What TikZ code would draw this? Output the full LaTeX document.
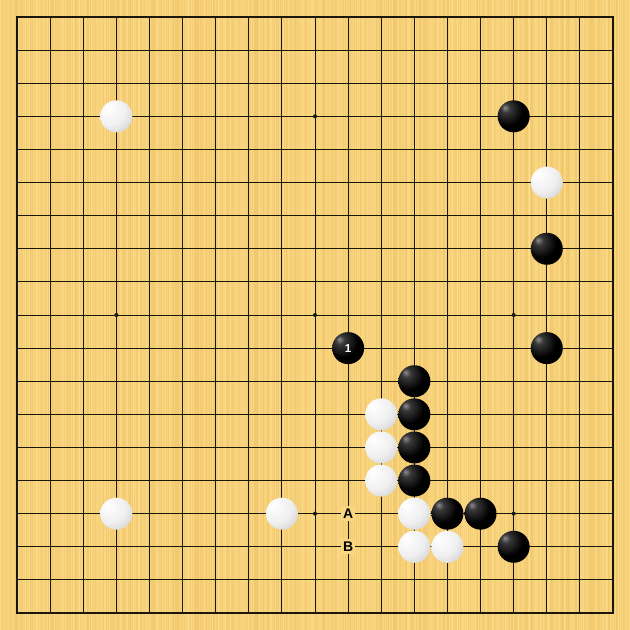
\documentclass[tikz,border=0pt]{standalone}
\usepackage{fontspec}
\setmainfont{Liberation Sans}
\definecolor{board}{RGB}{249,214,128}
\definecolor{grain}{RGB}{238,188,95}
\definecolor{grainl}{RGB}{253,226,150}
\definecolor{gridc}{RGB}{25,22,10}
\pgfdeclareradialshading{bstone}{\pgfpoint{-14bp}{14bp}}{color(0bp)=(black!45);color(7bp)=(black!78);color(24bp)=(black);color(80bp)=(black)}
\pgfdeclareradialshading{wstone}{\pgfpoint{-14bp}{14bp}}{color(0bp)=(white);color(24bp)=(white!94!black);color(50bp)=(white!74!black);color(80bp)=(white!55!black)}
\tikzset{
  bst/.style={circle,minimum size=32pt,inner sep=0pt,shading=bstone},
  wst/.style={circle,minimum size=32pt,inner sep=0pt,shading=wstone},
  hoshi/.style={circle,fill=gridc,minimum size=4pt,inner sep=0pt},
  boardlabel/.style={font=\fontsize{14}{16}\selectfont\bfseries,fill=board,inner xsep=1.8pt,inner ysep=2.5pt,text=black},
  movenum/.style={font=\fontsize{11.5}{13}\selectfont\bfseries,text=white},
  gridline/.style={draw=gridc,line width=0.95pt},
}
\begin{document}
\begin{tikzpicture}[x=33.111pt,y=-33.111pt]
\useasboundingbox (-0.5134,-0.5134) rectangle (18.5134,18.5134);
\fill[board] (-0.5134,-0.5134) rectangle (18.5134,18.5134);
\pgfmathsetseed{11}
\foreach \i in {0,...,314}{
  \pgfmathsetmacro\op{0.12+0.45*rnd}
  \pgfmathsetmacro\w{0.5+1.3*rnd}
  \pgfmathsetmacro\xx{-0.5134+0.0604*\i}
  \draw[grain,opacity=\op,line width=\w pt] (\xx,-0.5134) -- (\xx,18.5134);
}
\foreach \i in {0,...,104}{
  \pgfmathsetmacro\op{0.2+0.5*rnd}
  \pgfmathsetmacro\xx{-0.5134+0.1812*\i+0.09*rnd}
  \draw[grainl,opacity=\op,line width=1pt] (\xx,-0.5134) -- (\xx,18.5134);
}
% grid
\foreach \k in {1,...,17}{
  \draw[gridline] (\k,0) -- (\k,18);
  \draw[gridline] (0,\k) -- (18,\k);
}
\draw[draw=gridc,line width=1.8pt] (0,0) rectangle (18,18);
% star points
\foreach \a/\b [count=\n] in {3/3,9/3,15/3,3/9,9/9,15/9,3/15,9/15,15/15}{
  \node[hoshi] (h\n) at (\a,\b) {};
}
% labels
\node[boardlabel] (A) at (10,15) {A};
\node[boardlabel] (B) at (10,16) {B};
% white stones
\foreach \a/\b [count=\n] in {3/3,16/5,11/12,11/13,11/14,3/15,8/15,12/15,12/16,13/16}{
  \node[wst] (w\n) at (\a,\b) {};
}
% black stones
\foreach \a/\b [count=\n] in {15/3,16/7,16/10,12/11,12/12,12/13,12/14,13/15,14/15,15/16}{
  \node[bst] (b\n) at (\a,\b) {};
}
\node[bst] (m1) at (10,10) {};
\node[movenum] (m1t) at (m1.center) {1};
\end{tikzpicture}
\end{document}
